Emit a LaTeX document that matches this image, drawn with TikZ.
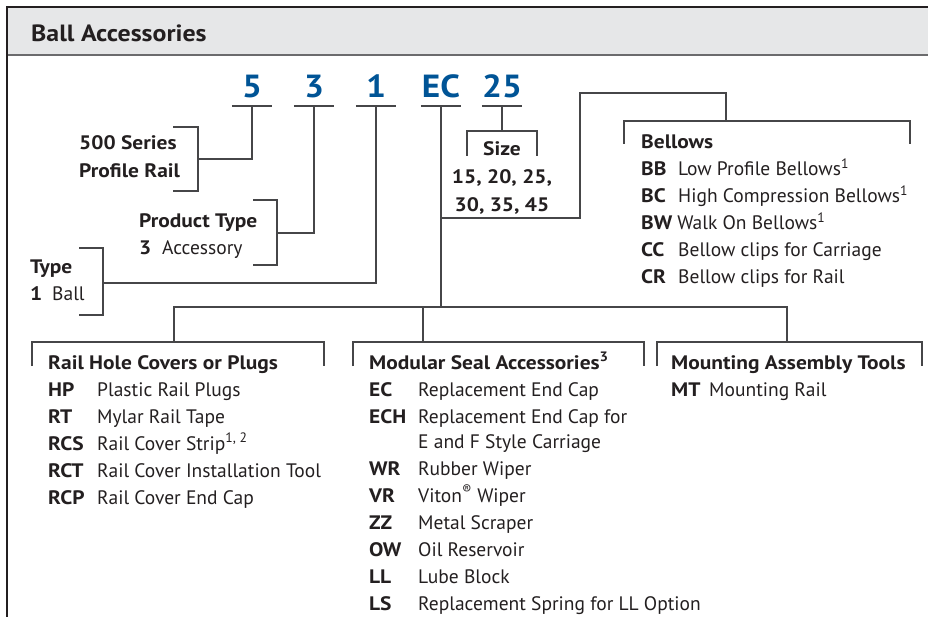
\documentclass[tikz,border=0pt]{standalone}
\usepackage{fontspec}
\setmainfont{PT Sans}[BoldFeatures={FakeStretch=1.1}]
\usepackage{tikz}
\usepackage{xcolor}

\definecolor{tinta}{RGB}{35,31,32}
\definecolor{azul}{RGB}{0,84,150}
\definecolor{fondo}{RGB}{230,231,232}
\definecolor{linea}{RGB}{70,70,72}

% codigo en negrita y descripcion en columna fija
\newcommand{\acc}[3][49pt]{\makebox[#1][l]{\textbf{#2}}#3}

\begin{document}
\begin{tikzpicture}[x=1pt, y=-1pt,
    % Definimos los estilos para no repetir codigo
    titulo/.style={anchor=base west, inner sep=0pt, font=\fontsize{23.5}{26}\selectfont\bfseries, text=tinta},
    digito/.style={anchor=base, inner sep=0pt, minimum width=40pt, font=\fontsize{32}{36}\selectfont\bfseries, text=azul},
    bloque/.style={anchor=base west, inner sep=0pt, font=\fontsize{19.5}{27}\selectfont, text=tinta},
    conector/.style={draw=linea, line width=1.1pt},
    raya/.style={draw=linea, line width=1.8pt}
  ]
  \useasboundingbox (0,0) rectangle (928,617);

  % 1. Marco y cabecera
  \fill[fondo] (8,8) rectangle (928,55);
  \draw[linea!80, line width=1.6pt] (7,55) -- (928,55);
  \draw[tinta, line width=2pt] (7,617) -- (7,7) -- (928,7);
  \node[titulo] (titulo) at (31,41.5) {Ball Accessories};

  % 2. Digitos del numero de pieza (con su raya debajo)
  \node[digito] (n5) at (252,98) {5};
  \node[digito] (n3) at (314,98) {3};
  \node[digito] (n1) at (376,98) {1};
  \node[digito] (nEC) at (441,98) {EC};
  \node[digito, minimum width=36pt] (n25) at (502,98) {25};

  \foreach \d in {5,3,1,EC,25} {
    \draw[raya] ([yshift=-8pt]n\d.base west) -- ([yshift=-8pt]n\d.base east);
    \coordinate (u\d) at ([yshift=-8pt]n\d.base);
  }

  % 3. Bloques de texto de arriba
  \node[bloque] (serie) at (79,150) {\bfseries\begin{tabular}[t]{@{}l@{}}500 Series\\[1pt] Profile Rail\end{tabular}};
  \node[bloque] (producto) at (139,228) {\begin{tabular}[t]{@{}l@{}}\textbf{Product Type}\\ \acc[23pt]{3}{Accessory}\end{tabular}};
  \node[bloque] (tipo) at (30,274) {\begin{tabular}[t]{@{}l@{}}\textbf{Type}\\ \acc[22pt]{1}{Ball}\end{tabular}};
  \node[bloque, anchor=base] (talla) at (502,156) {\bfseries\begin{tabular}[t]{@{}c@{}}Size\\[1pt] 15, 20, 25,\\[1pt] 30, 35, 45\end{tabular}};
  \node[bloque] (fuelles) at (641,149) {\begin{tabular}[t]{@{}l@{}}\textbf{Bellows}\\
      \acc[37pt]{BB}{Low Profile Bellows\textsuperscript{1}}\\
      \acc[37pt]{BC}{High Compression Bellows\textsuperscript{1}}\\
      \textbf{BW}\hspace{5pt}Walk On Bellows\textsuperscript{1}\\
      \acc[37pt]{CC}{Bellow clips for Carriage}\\
      \acc[37pt]{CR}{Bellow clips for Rail}\end{tabular}};

  % 4. Bloques de texto de abajo
  \node[bloque] (riel) at (48,369) {\begin{tabular}[t]{@{}l@{}}\textbf{Rail Hole Covers or Plugs}\\
      \acc{HP}{Plastic Rail Plugs}\\
      \acc{RT}{Mylar Rail Tape}\\
      \acc{RCS}{Rail Cover Strip\textsuperscript{1, 2}}\\
      \acc{RCT}{Rail Cover Installation Tool}\\
      \acc{RCP}{Rail Cover End Cap}\end{tabular}};
  \node[bloque] (sello) at (369,369) {\begin{tabular}[t]{@{}l@{}}\textbf{Modular Seal Accessories\textsuperscript{3}}\\
      \acc{EC}{Replacement End Cap}\\
      \acc{ECH}{Replacement End Cap for}\\[-1.5pt]
      \acc{}{E and F Style Carriage}\\
      \acc{WR}{Rubber Wiper}\\
      \acc{VR}{Viton\textsuperscript{®} Wiper}\\
      \acc{ZZ}{Metal Scraper}\\
      \acc{OW}{Oil Reservoir}\\
      \acc{LL}{Lube Block}\\
      \acc{LS}{Replacement Spring for LL Option}\end{tabular}};
  \node[bloque] (montaje) at (671,369) {\begin{tabular}[t]{@{}l@{}}\textbf{Mounting Assembly Tools}\\
      \acc[38pt]{MT}{Mounting Rail}\end{tabular}};

  % 5. Puntos donde llegan las conexiones
  \coordinate (b500) at (198,159);
  \coordinate (bprod) at (277,233);
  \coordinate (btipo) at (103,283);
  \coordinate (bsize) at (502,131);
  \coordinate (codo) at (441,218);
  \coordinate (bfuelle) at (726,121);
  \coordinate (ramal) at (441,307);
  \coordinate (briel) at (174,342);
  \coordinate (bsello) at (423,342);
  \coordinate (bmont) at (787,342);

  % 6. Corchetes
  \draw[conector] (173,127) -| (198,191) -- (173,191);
  \draw[conector] (253,200) -| (277,265) -- (253,265);
  \draw[conector] (79,248) -| (103,315) -- (79,315);
  \draw[conector] (467,156) |- (537,131) -- (537,156);
  \draw[conector] (624,144) |- (910,121) -- (910,144);
  \draw[conector] (32,366) |- (324,342) -- (324,366);
  \draw[conector] (353,366) |- (644,342) -- (644,366);
  \draw[conector] (657,366) |- (922,342) -- (922,366);

  % 7. Conexiones (Edges)
  \draw[conector] (u5) |- (b500);
  \draw[conector] (u3) |- (bprod);
  \draw[conector] (u1) |- (btipo);
  \draw[conector] (u25) -- (bsize);
  \draw[conector] (uEC) -- (ramal);
  \draw[conector] (codo) -| (580,93) -| (bfuelle);
  \draw[conector] (briel) -- (briel |- ramal) -- (bmont |- ramal) -- (bmont);
  \draw[conector] (bsello) -- (bsello |- ramal);

\end{tikzpicture}
\end{document}
